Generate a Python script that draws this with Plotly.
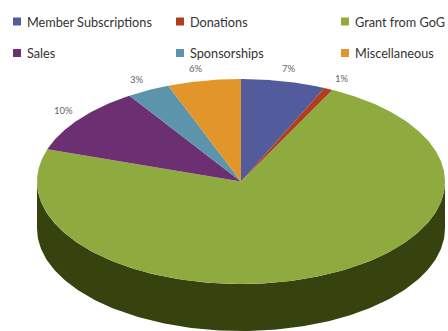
import numpy as np
import plotly.graph_objects as go

categories = ["Member Subscriptions", "Donations", "Grant from GoG", "Sales", "Sponsorships", "Miscellaneous"]
values = [6.7, 0.7, 72.7, 10.7, 3.4, 5.8]
pct_labels = ["7%", "1%", "73%", "10%", "3%", "6%"]
colors = ["#525c9c", "#b23c1e", "#8fab3f", "#6c2f72", "#5c94ac", "#e2952b"]

W, H = 448, 331
cx, cy, rx, ry, depth = 241, 181.5, 204, 102.5, 47
side_color = "#37430f"
legend_x = [13, 176, 341]
legend_y = [21.5, 53]
label_pos = [(289, 68), (342, 78), None, (63, 110), (137, 79), (196, 68)]

def pt(deg, dy=0):
    t = np.radians(deg)
    return cx + rx * np.sin(t), cy - ry * np.cos(t) + dy

fig = go.Figure()

# side wall (front half of the disc)
a = np.linspace(90, 270, 181)
x1, y1 = pt(a, depth)
x2, y2 = pt(a[::-1])
fig.add_trace(go.Scatter(x=np.r_[x1, x2], y=np.r_[y1, y2], mode="lines", fill="toself",
                         fillcolor=side_color, line=dict(width=0), hoverinfo="skip", showlegend=False))

# top-face slices computed from the values
cum = np.cumsum([0] + values)
total = cum[-1]
for i, name in enumerate(categories):
    a0, a1 = cum[i] / total * 360, cum[i + 1] / total * 360
    a = np.linspace(a0, a1, max(int(a1 - a0) * 2, 2) + 1)
    x, y = pt(a)
    fig.add_trace(go.Scatter(x=np.r_[cx, x, cx], y=np.r_[cy, y, cy], mode="lines", fill="toself",
                             fillcolor=colors[i], line=dict(width=0), name=name, showlegend=False))

# legend keys and text
for i, name in enumerate(categories):
    lx, ly = legend_x[i % 3], legend_y[i // 3]
    fig.add_trace(go.Scatter(x=[lx + 4], y=[ly], mode="markers",
                             marker=dict(symbol="square", size=8, color=colors[i]),
                             hoverinfo="skip", showlegend=False))
    fig.add_annotation(x=lx + 12, y=ly, text=name, showarrow=False, xanchor="left", yanchor="middle",
                       font=dict(family="Lato", size=12.7, color="#333333"))

# percentage labels
for lab, pos in zip(pct_labels, label_pos):
    if pos:
        fig.add_annotation(x=pos[0], y=pos[1], text=lab, showarrow=False,
                           font=dict(family="Lato", size=9.5, color="#666666"))

fig.update_layout(width=W, height=H, margin=dict(l=0, r=0, t=0, b=0),
                  paper_bgcolor="white", plot_bgcolor="white", showlegend=False,
                  xaxis=dict(range=[0, W], visible=False, fixedrange=True),
                  yaxis=dict(range=[H, 0], visible=False, fixedrange=True))
fig.write_html("out.html", config={"displayModeBar": False},
               post_script="document.body.style.margin='0';document.body.style.overflow='hidden';")
